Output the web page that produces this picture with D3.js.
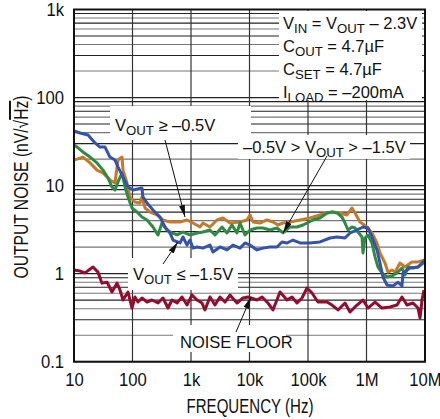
<!DOCTYPE html>
<html><head><meta charset="utf-8">
<script src="https://cdn.jsdelivr.net/npm/d3@7"></script>
<style>
body{margin:0;background:#fff;}
svg text{font-family:"Liberation Sans","Arial",sans-serif;fill:#111;}
</style></head>
<body><svg id="c" width="440" height="419"></svg>
<script>
// ---- data (frequency Hz, noise nV/√Hz) ----
const blueF=[10,12.7,17.4,22.9,27.8,33.9,41.2,50.2,56.5,68.8,83.8,102,145,151,177,224,295,359,437,492,649,730,855,962,1080,1270,1600,2110,2380,3130,4120,5220,6880,8380,10200,13400,17000,22400,29500,35900,43800,55400,73000,108000,160000,238000,313000,429000,522000,688000,871000,1.06e6,1.24e6,1.51e6,1.70e6,1.91e6,2.24e6,2.84e6,3.45e6,4.04e6,4.21e6,5.54e6,7.59e6,1e7];
const blueV=[41.7,39.6,37.5,30.5,27.4,27.4,21.1,19.5,16.3,12.5,9.64,8.91,9.39,7.43,6.35,5.28,4.40,3.39,2.90,2.41,2.23,2.61,2.11,2.41,1.95,2.01,1.95,2.11,1.76,2.01,1.86,2.11,1.95,2.23,2.11,1.86,1.95,2.01,2.01,2.29,2.23,2.41,2.23,2.23,2.29,2.54,2.61,2.54,2.90,3.13,3.39,3.30,2.61,1.86,1.32,0.916,0.743,0.724,0.80,0.724,1.02,1.16,1.19,1.43];
const orangeF=[10,11.3,14.2,18.8,24.7,31.3,41.2,50.2,56.5,66.2,68.8,80.5,90.6,110,134,145,164,199,262,332,437,649,855,1080,1430,1600,2110,2780,3520,4640,6880,9060,10200,11500,15100,19900,25200,30700,37400,49200,73000,108000,160000,211000,268000,352000,464000,565000,636000,774000,1.02e6,1.24e6,1.51e6,1.70e6,2.07e6,2.33e6,2.73e6,3.07e6,3.74e6,4.55e6,6.00e6,7.59e6,1e7];
const orangeV=[19.5,20.0,21.1,18.1,15.0,13.9,11.6,10.7,19.5,21.1,15.0,10.7,7.43,6.52,6.35,7.43,5.57,5.01,4.64,4.07,3.86,3.86,4.07,3.76,3.39,3.76,3.39,4.07,4.29,3.76,3.86,4.07,4.64,3.86,3.76,4.07,3.86,3.57,3.76,3.86,4.07,4.29,4.64,4.89,5.01,4.89,4.64,5.57,4.89,3.86,3.39,2.90,2.23,1.72,1.32,1.04,1.10,1.04,1.32,1.19,1.36,1.36,1.43];
const greenF=[10,11.3,14.2,18.8,24.7,31.3,38.1,44.6,50.2,56.5,66.2,74.5,83.8,98,119,145,177,224,273,319,389,473,577,730,962,1270,1600,2110,2570,3390,4120,5020,6110,6880,8380,10200,13400,17000,22400,29500,37400,49200,64900,82200,122000,160000,211000,257000,313000,381000,429000,483000,565000,636000,716000,838000,871000,942000,1.06e6,1.24e6,1.40e6,1.57e6,1.84e6,2.24e6,2.73e6,3.32e6,4.04e6,4.55e6,5.12e6,6.24e6,7.59e6,1e7];
const greenV=[28.9,27.4,24.1,21.1,18.1,15.0,12.2,9.64,8.91,11.0,13.9,9.64,7.43,5.57,5.01,4.40,4.07,3.39,2.75,3.76,3.13,2.90,2.75,2.97,2.75,2.90,2.97,3.13,2.75,3.39,2.90,3.57,2.90,3.76,2.75,3.13,3.30,3.30,3.13,3.30,2.90,3.39,3.39,3.57,4.07,4.29,4.89,5.01,4.89,4.40,3.76,3.13,3.39,3.30,2.97,2.61,1.72,2.54,2.75,2.23,1.55,1.19,1.02,0.916,0.94,1.02,1.16,0.966,1.19,1.16,1.19,1.36];
const floorF=[10,12.7,15.4,21.1,25.7,30.1,36.7,44.6,54.3,61.1,68.8,83.8,98,110,124,145,177,215,273,332,404,473,577,702,855,1040,1270,1540,1730,2110,2570,3130,3810,4640,6110,7740,9420,13400,16400,20700,25200,33200,43800,53300,64900,79000,96200,117000,148000,211000,257000,326000,429000,522000,688000,871000,1.06e6,1.40e6,1.84e6,2.52e6,3.32e6,4.04e6,4.92e6,6.24e6,7.59e6,8.22e6,8.89e6,9.62e6];
const floorV=[1.10,1.07,1.02,1.19,1.04,0.78,0.80,0.619,0.78,0.652,0.502,0.619,0.407,0.543,0.476,0.529,0.476,0.502,0.464,0.529,0.407,0.502,0.464,0.543,0.440,0.572,0.502,0.464,0.387,0.543,0.440,0.543,0.476,0.572,0.464,0.529,0.543,0.502,0.543,0.464,0.387,0.619,0.502,0.543,0.464,0.529,0.687,0.603,0.476,0.476,0.440,0.387,0.464,0.367,0.440,0.502,0.407,0.476,0.407,0.418,0.440,0.543,0.440,0.464,0.407,0.313,0.502,0.652];
const xTicks=[10,100,1e3,1e4,1e5,1e6,1e7];
const xTickLabels=["10","100","1k","10k","100k","1M","10M"];
const yTicks=[0.1,1,10,100,1000];
const yTickLabels=["0.1","1","10","100","1k"];

const series=[
  {f:orangeF,v:orangeV,color:"#c47a2c"},
  {f:greenF,v:greenV,color:"#2e8a45"},
  {f:blueF,v:blueV,color:"#3553ad"},
  {f:floorF,v:floorV,color:"#960a2c"}
];

const svg=d3.select("#c");
const L=74,R=425,T=9.5,B=361.7;
const x=d3.scaleLog().domain([10,1e7]).range([L,R]);
const y=d3.scaleLog().domain([0.1,1000]).range([B,T]);

// grid
const g=svg.append("g");
const minors=[];
for(let d=0.1;d<1000;d*=10){for(let k=2;k<=9;k++)minors.push(+(d*k).toPrecision(3));}
g.selectAll(".hm").data(minors).join("line")
 .attr("x1",L).attr("x2",R).attr("y1",d=>y(d)).attr("y2",d=>y(d))
 .attr("stroke",(d,i)=>i%2?"#222":"#777").attr("stroke-width",1.1);
g.selectAll(".hM").data(yTicks).join("line")
 .attr("x1",L).attr("x2",R).attr("y1",d=>y(d)).attr("y2",d=>y(d))
 .attr("stroke","#222").attr("stroke-width",1.2);
g.selectAll(".vM").data(xTicks).join("line")
 .attr("y1",T).attr("y2",B).attr("x1",d=>x(d)).attr("x2",d=>x(d))
 .attr("stroke","#333").attr("stroke-width",1.2);

// white label boxes (cover grid)
const boxes=[[279,11,143,89],[110,106,141,34],[238,135,172,24],[128,258,110,32],[173,325,113,27]];
svg.append("g").selectAll("rect").data(boxes).join("rect")
 .attr("x",d=>d[0]).attr("y",d=>d[1]).attr("width",d=>d[2]).attr("height",d=>d[3]).attr("fill","#fff");

// curves
const line=d3.line().x(d=>x(d[0])).y(d=>y(d[1])).curve(d3.curveLinear);
svg.append("g").selectAll("path").data(series).join("path")
 .attr("d",s=>line(s.f.map((f,i)=>[f,s.v[i]])))
 .attr("fill","none").attr("stroke",s=>s.color).attr("stroke-width",3).attr("stroke-linejoin","round");

// frame
svg.append("rect").attr("x",L).attr("y",T).attr("width",R-L).attr("height",B-T)
 .attr("fill","none").attr("stroke","#111").attr("stroke-width",2);

// axes labels
const xAxis=d3.axisBottom(x).tickValues(xTicks).tickFormat((d,i)=>xTickLabels[i]).tickSize(0).tickPadding(11);
const xa=svg.append("g").attr("transform",`translate(0,${B})`).call(xAxis);
const yAxis=d3.axisLeft(y).tickValues(yTicks).tickFormat((d,i)=>yTickLabels[i]).tickSize(0).tickPadding(10);
const ya=svg.append("g").attr("transform",`translate(${L},0)`).call(yAxis);
[xa,ya].forEach(a=>{a.select(".domain").remove();a.selectAll("text").attr("font-size",18.5).style("font-family",'"Liberation Sans",sans-serif').attr("fill","#111");});
xa.selectAll("text").attr("transform","scale(0.9,1)").attr("x",function(){return 0;});
xa.selectAll(".tick").each(function(){
  const t=d3.select(this).attr("transform");
});
ya.selectAll("text").attr("transform","scale(0.9,1)").attr("x",-11);

const xt=svg.append("text").attr("x",250).attr("y",413).attr("text-anchor","middle").attr("font-size",19.5)
 .attr("textLength",127).attr("lengthAdjust","spacingAndGlyphs").text("FREQUENCY (Hz)");
const yt=svg.append("text").attr("transform","translate(28,187) rotate(-90)").attr("text-anchor","middle").attr("font-size",19.5)
 .attr("textLength",183).attr("lengthAdjust","spacingAndGlyphs");
yt.append("tspan").text("OUTPUT NOISE (nV/√");
yt.append("tspan").style("text-decoration","overline").text("Hz");
yt.append("tspan").text(")");

// rich text helper
function rich(xp,yp,parts,size){
  const t=svg.append("text").attr("x",xp).attr("y",yp).attr("font-size",size);
  let shifted=false;
  parts.forEach(p=>{
    const sub=Array.isArray(p);
    const s=t.append("tspan").text(sub?p[0]:p);
    if(sub){s.attr("font-size",size*0.8).attr("dy",4);shifted=true;}
    else if(shifted){s.attr("dy",-4);shifted=false;}
  });
  return t;
}
const fs=16.5;
rich(283,29,["V",["IN"]," = V",["OUT"]," – 2.3V"],fs);
rich(283,52,["C",["OUT"]," = 4.7µF"],fs);
rich(283,75,["C",["SET"]," = 4.7µF"],fs);
rich(283,98,["I",["LOAD"]," = –200mA"],fs);
rich(115,131,["V",["OUT"]," ≥ –0.5V"],fs);
rich(243,153,["–0.5V > V",["OUT"]," > –1.5V"],fs);
rich(133,280,["V",["OUT"]," ≤ –1.5V"],fs);
rich(180,348,["NOISE FLOOR"],fs);

// arrows
const defs=svg.append("defs");
defs.append("marker").attr("id","ah").attr("viewBox","0 0 12 6").attr("refX",12).attr("refY",3)
 .attr("markerWidth",12).attr("markerHeight",6).attr("markerUnits","userSpaceOnUse").attr("orient","auto")
 .append("path").attr("d","M0,0L12,3L0,6Z").attr("fill","#111");
const arrows=[[165,140,185,217],[327,156,283,233],[163,264,178,242],[236,332,251,297]];
svg.append("g").selectAll("line").data(arrows).join("line")
 .attr("x1",d=>d[0]).attr("y1",d=>d[1]).attr("x2",d=>d[2]).attr("y2",d=>d[3])
 .attr("stroke","#111").attr("stroke-width",1).attr("marker-end","url(#ah)");
</script></body></html>
